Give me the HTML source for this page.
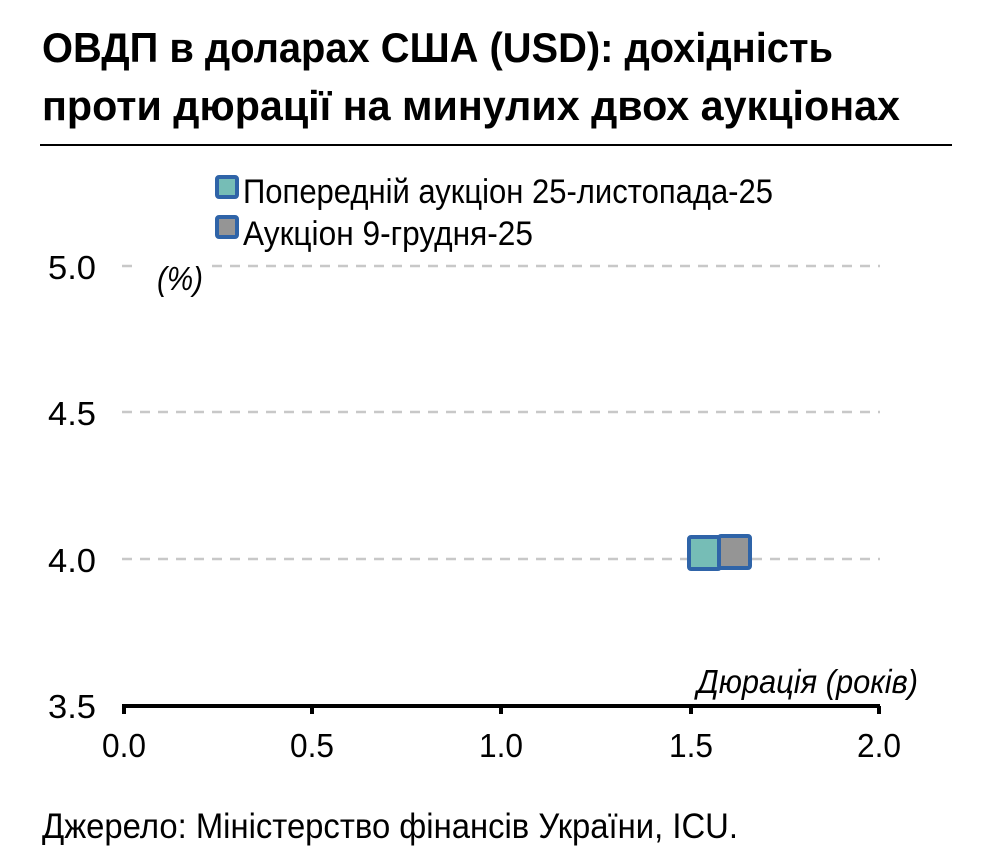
<!DOCTYPE html>
<html><head><meta charset="utf-8"><style>
html,body{margin:0;padding:0;background:#fff}
svg{display:block}
text{font-family:"Liberation Sans Narrow","Liberation Sans",sans-serif;fill:#000}
</style></head><body>
<svg width="984" height="864" viewBox="0 0 984 864" xmlns="http://www.w3.org/2000/svg">
<text x="42" y="62" font-size="42" font-weight="bold" textLength="791" lengthAdjust="spacingAndGlyphs">ОВДП в доларах США (USD): дохідність</text>
<text x="42" y="120" font-size="42" font-weight="bold" textLength="858" lengthAdjust="spacingAndGlyphs">проти дюрації на минулих двох аукціонах</text>
<line x1="40" y1="145" x2="952" y2="145" stroke="#000" stroke-width="2"/>
<rect x="217" y="177" width="20" height="20" fill="#76bdb6" stroke="#2f64a8" stroke-width="4" rx="2"/>
<text x="243" y="203" font-size="34" textLength="530" lengthAdjust="spacingAndGlyphs">Попередній аукціон 25-листопада-25</text>
<rect x="217" y="217" width="20" height="20" fill="#959595" stroke="#2f64a8" stroke-width="4" rx="2"/>
<text x="243" y="245" font-size="34" textLength="290" lengthAdjust="spacingAndGlyphs">Аукціон 9-грудня-25</text>
<g stroke="#c8c8c8" stroke-width="2.5" stroke-dasharray="10 8">
<line x1="122" y1="266" x2="880" y2="266"/>
<line x1="122" y1="412" x2="880" y2="412"/>
<line x1="122" y1="559" x2="880" y2="559"/>
</g>
<rect x="140" y="255" width="70" height="40" fill="#fff"/>
<text x="157" y="290" font-size="33" font-style="italic" textLength="46" lengthAdjust="spacingAndGlyphs">(%)</text>
<g font-size="33">
<text x="48" y="279" textLength="48" lengthAdjust="spacingAndGlyphs">5.0</text>
<text x="48" y="425" textLength="48" lengthAdjust="spacingAndGlyphs">4.5</text>
<text x="48" y="572" textLength="48" lengthAdjust="spacingAndGlyphs">4.0</text>
<text x="48" y="718" textLength="48" lengthAdjust="spacingAndGlyphs">3.5</text>
</g>
<line x1="122" y1="706" x2="880" y2="706" stroke="#000" stroke-width="4"/>
<g stroke="#000" stroke-width="4">
<line x1="124" y1="706" x2="124" y2="714"/><line x1="312" y1="706" x2="312" y2="714"/>
<line x1="501" y1="706" x2="501" y2="714"/><line x1="691" y1="706" x2="691" y2="714"/>
<line x1="879" y1="706" x2="879" y2="714"/>
</g>
<g font-size="33">
<text x="102" y="757" textLength="44" lengthAdjust="spacingAndGlyphs">0.0</text>
<text x="290" y="757" textLength="44" lengthAdjust="spacingAndGlyphs">0.5</text>
<text x="479" y="757" textLength="44" lengthAdjust="spacingAndGlyphs">1.0</text>
<text x="669" y="757" textLength="44" lengthAdjust="spacingAndGlyphs">1.5</text>
<text x="857" y="757" textLength="44" lengthAdjust="spacingAndGlyphs">2.0</text>
</g>
<text x="697" y="693" font-size="33" font-style="italic" textLength="221" lengthAdjust="spacingAndGlyphs">Дюрація (років)</text>
<rect x="689" y="537" width="31" height="32" fill="#76bdb6" stroke="#2f64a8" stroke-width="4" rx="2"/>
<rect x="719" y="536" width="31" height="32" fill="#959595" stroke="#2f64a8" stroke-width="4" rx="2"/>
<text x="42" y="838" font-size="35" textLength="696" lengthAdjust="spacingAndGlyphs">Джерело: Міністерство фінансів України, ICU.</text>
</svg>
</body></html>
